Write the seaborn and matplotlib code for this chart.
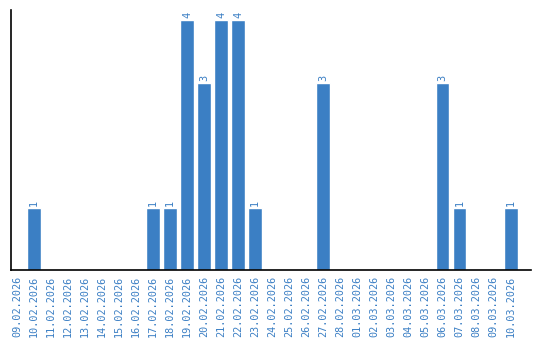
import matplotlib
matplotlib.use("Agg")
import matplotlib.pyplot as plt
import seaborn as sns
import pandas as pd

dates = ["09.02.2026", "10.02.2026", "11.02.2026", "12.02.2026", "13.02.2026",
         "14.02.2026", "15.02.2026", "16.02.2026", "17.02.2026", "18.02.2026",
         "19.02.2026", "20.02.2026", "21.02.2026", "22.02.2026", "23.02.2026",
         "24.02.2026", "25.02.2026", "26.02.2026", "27.02.2026", "28.02.2026",
         "01.03.2026", "02.03.2026", "03.03.2026", "04.03.2026", "05.03.2026",
         "06.03.2026", "07.03.2026", "08.03.2026", "09.03.2026", "10.03.2026"]
counts = [0, 1, 0, 0, 0, 0, 0, 0, 1, 1,
          4, 3, 4, 4, 1, 0, 0, 0, 3, 0,
          0, 0, 0, 0, 0, 3, 1, 0, 0, 1]

bar_color = "#3b7fc4"
text_color = "#3b7fc4"

sns.set_style("white")
plt.rcParams['font.family'] = ['DejaVu Sans Mono', 'DejaVu Sans']

df = pd.DataFrame({"date": dates, "count": counts})

fig = plt.figure(figsize=(5.4, 3.4), dpi=100)
ax = fig.add_axes([11/540, 70/340, 520/540, 260/340])
sns.barplot(data=df, x="date", y="count", color=bar_color, saturation=1,
            width=0.82, ax=ax)

for i, v in enumerate(counts):
    if v > 0:
        ax.text(i, v + 0.03, str(v), rotation=90, ha="center", va="bottom",
                color=text_color, fontsize=7.4)

ax.set_xlim(-0.35, 30.2)
ax.set_ylim(0, 4.16)
ax.set_xlabel("")
ax.set_ylabel("")
ax.set_yticks([])
ax.tick_params(axis="x", length=0, pad=4, labelsize=7.3, labelcolor=text_color,
               labelrotation=90)
for lbl in ax.get_xticklabels():
    lbl.set_va("top")
for side in ["top", "right"]:
    ax.spines[side].set_visible(False)
for side in ["left", "bottom"]:
    ax.spines[side].set_color("black")
    ax.spines[side].set_linewidth(1.2)

fig.savefig("out.png", dpi=100)
